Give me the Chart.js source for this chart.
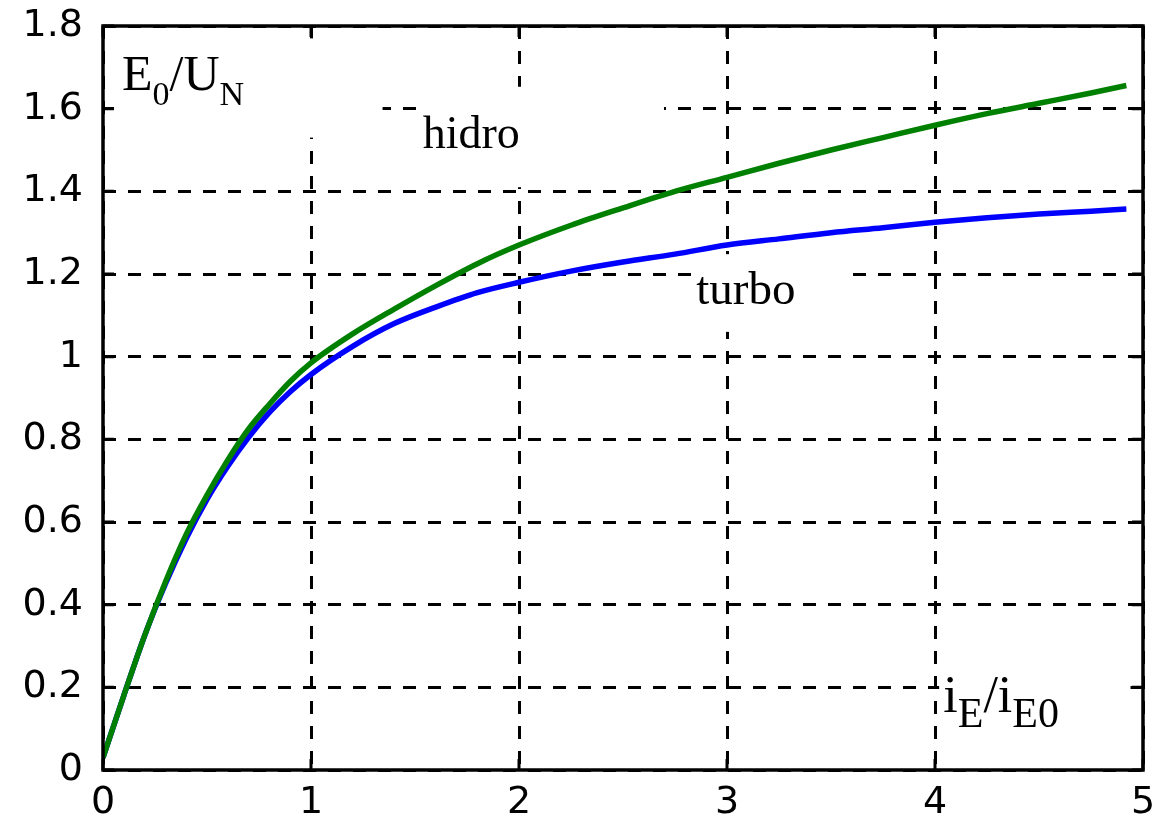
<!DOCTYPE html>
<html>
<head>
<meta charset="utf-8">
<script src="https://cdn.jsdelivr.net/npm/chart.js@4/dist/chart.umd.min.js"></script>
<style>
  html, body { margin: 0; padding: 0; background: #fff; }
  #wrap { width: 1160px; height: 823px; position: relative; }
</style>
</head>
<body>
<div id="wrap"><canvas id="chart"></canvas></div>
<script>
// excitation current i_E / i_E0
const iE = [0, 0.1, 0.2, 0.3, 0.4, 0.5, 0.6, 0.7, 0.8, 0.9, 1.0, 1.2, 1.4, 1.6, 1.8, 2.0,
  2.25, 2.5, 2.75, 3.0, 3.25, 3.5, 3.75, 4.0, 4.25, 4.5, 4.75, 4.92];

// E0 / UN, hydro generator
const hidro = [0.03, 0.18, 0.325, 0.455, 0.57, 0.665, 0.75, 0.825, 0.885, 0.94, 0.985, 1.055, 1.115, 1.172, 1.225, 1.27,
  1.318, 1.36, 1.40, 1.434, 1.468, 1.50, 1.53, 1.56, 1.588, 1.613, 1.638, 1.656];

// E0 / UN, turbo generator
const turbo = [0.03, 0.18, 0.325, 0.45, 0.56, 0.655, 0.735, 0.805, 0.865, 0.915, 0.957, 1.025, 1.08, 1.12, 1.155, 1.18,
  1.207, 1.229, 1.248, 1.27, 1.285, 1.30, 1.312, 1.325, 1.336, 1.345, 1.352, 1.357];

const xTicks = [0, 1, 2, 3, 4, 5];
const yTicks = [0, 0.2, 0.4, 0.6, 0.8, 1, 1.2, 1.4, 1.6, 1.8];

function pts(ys) {
  return iE.map((v, i) => ({ x: v, y: ys[i] }));
}

// text with subscripts: [text, size, baseline shift]
function drawRich(ctx, x, y, parts) {
  let cx = x;
  parts.forEach(p => {
    ctx.font = p[1] + 'px "Liberation Serif"';
    ctx.fillText(p[0], cx, y + p[2]);
    cx += ctx.measureText(p[0]).width;
  });
}

function noPad(s) {
  s.paddingTop = 0; s.paddingBottom = 0; s.paddingLeft = 0; s.paddingRight = 0;
}

const decor = {
  id: 'decor',
  beforeDatasetsDraw(chart) {
    const { ctx, scales: { x, y } } = chart;
    // white label backgrounds hiding the grid (data units)
    const boxes = [
      [0.053, 1.344, 1.77, 1.53],
      [1.513, 2.697, 1.653, 1.41],
      [2.827, 3.598, 1.248, 1.06],
      [4.02, 4.94, 0.385, 0.024]
    ];
    ctx.save();
    ctx.fillStyle = '#fff';
    boxes.forEach(b => {
      const l = x.getPixelForValue(b[0]), r = x.getPixelForValue(b[1]);
      const t = y.getPixelForValue(b[2]), bt = y.getPixelForValue(b[3]);
      ctx.fillRect(l, t, r - l, bt - t);
    });
    ctx.restore();
  },
  afterDatasetsDraw(chart) {
    const { ctx, chartArea: a, scales: { x, y } } = chart;
    ctx.save();
    ctx.strokeStyle = '#000';
    ctx.lineWidth = 3.5;
    ctx.strokeRect(a.left, a.top, a.right - a.left, a.bottom - a.top);
    // inward tick marks
    ctx.beginPath();
    ctx.lineWidth = 3;
    const tl = 11;
    xTicks.forEach(v => {
      const px = x.getPixelForValue(v);
      ctx.moveTo(px, a.bottom); ctx.lineTo(px, a.bottom - tl);
      ctx.moveTo(px, a.top); ctx.lineTo(px, a.top + tl);
    });
    yTicks.forEach(v => {
      const py = y.getPixelForValue(v);
      ctx.moveTo(a.left, py); ctx.lineTo(a.left + tl, py);
      ctx.moveTo(a.right, py); ctx.lineTo(a.right - tl, py);
    });
    ctx.stroke();

    ctx.fillStyle = '#000';
    ctx.textBaseline = 'alphabetic';
    ctx.textAlign = 'left';
    const P = (vx, vy) => [x.getPixelForValue(vx), y.getPixelForValue(vy)];
    let p = P(0.0915, 1.645);
    drawRich(ctx, p[0], p[1], [['E', 50, 0], ['0', 34, 15], ['/', 50, 0], ['U', 50, 0], ['N', 34, 15]]);
    p = P(1.537, 1.506);
    drawRich(ctx, p[0], p[1], [['hidro', 46, 0]]);
    p = P(2.852, 1.128);
    drawRich(ctx, p[0], p[1], [['turbo', 47, 0]]);
    p = P(4.04, 0.14);
    drawRich(ctx, p[0], p[1], [['i', 52, 0], ['E', 42, 15], ['/', 52, 0], ['i', 52, 0], ['E0', 42, 15]]);
    ctx.restore();
  }
};

new Chart(document.getElementById('chart'), {
  type: 'line',
  data: {
    datasets: [
      { label: 'hidro', data: pts(hidro), borderColor: 'rgb(0,128,0)', borderWidth: 5.5,
        pointRadius: 0, cubicInterpolationMode: 'monotone', fill: false },
      { label: 'turbo', data: pts(turbo), borderColor: 'rgb(0,0,255)', borderWidth: 5.5,
        pointRadius: 0, cubicInterpolationMode: 'monotone', fill: false }
    ]
  },
  options: {
    responsive: true,
    maintainAspectRatio: false,
    animation: false,
    layout: { padding: { top: 26, right: 17, left: 0, bottom: 0 } },
    plugins: { legend: { display: false }, tooltip: { enabled: false } },
    scales: {
      x: {
        type: 'linear', min: 0, max: 5,
        afterBuildTicks: s => { s.ticks = xTicks.map(v => ({ value: v })); },
        afterFit: s => { s.height = 53; noPad(s); },
        ticks: { color: '#000', padding: 10, maxRotation: 0, font: { family: 'DejaVu Sans', size: 38 },
          callback: v => String(v) },
        grid: { color: '#000', lineWidth: 3, drawTicks: false },
        border: { display: false, dash: [13, 12] }
      },
      y: {
        type: 'linear', min: 0, max: 1.8,
        afterBuildTicks: s => { s.ticks = yTicks.map(v => ({ value: v })); },
        afterFit: s => { s.width = 103; noPad(s); },
        ticks: { color: '#000', padding: 20, font: { family: 'DejaVu Sans', size: 38 },
          callback: v => String(v) },
        grid: { color: '#000', lineWidth: 3, drawTicks: false },
        border: { display: false, dash: [13, 12] }
      }
    }
  },
  plugins: [decor]
});
</script>
</body>
</html>
